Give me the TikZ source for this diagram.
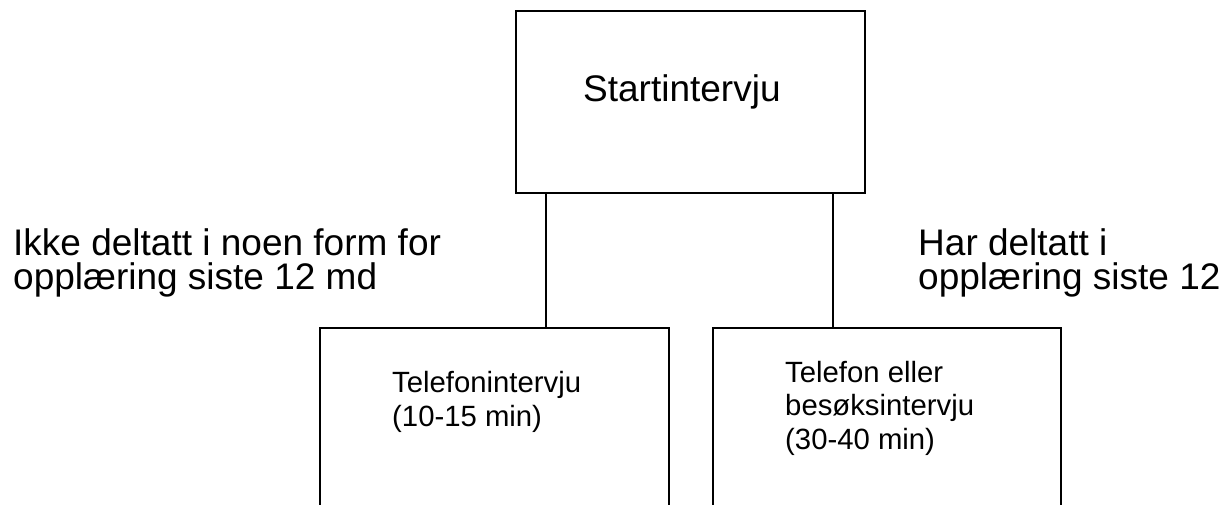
\documentclass[tikz,border=0pt]{standalone}
\usepackage{fontspec}
\setmainfont{Liberation Sans}
\begin{document}
\begin{tikzpicture}[x=1pt,y=-1pt,
  boxstyle/.style={draw=black,line width=1.8pt,rectangle,inner sep=0pt},
  conn/.style={draw=black,line width=1.8pt},
  bigtxt/.style={anchor=base west,align=left,inner sep=0pt,font=\fontsize{37}{34}\selectfont},
  smalltxt/.style={anchor=base west,align=left,inner sep=0pt,font=\fontsize{29.3}{33.5}\selectfont}]
\useasboundingbox (0,0) rectangle (1222,504);
% boxes
\node[boxstyle,anchor=north west,minimum width=349pt,minimum height=182pt] (top) at (515,10) {};
\node[boxstyle,anchor=north west,minimum width=349pt,minimum height=220pt] (lbox) at (319,327) {};
\node[boxstyle,anchor=north west,minimum width=348pt,minimum height=220pt] (rbox) at (712,327) {};
% connectors
\coordinate (lc) at (546,192);
\coordinate (rc) at (833,192);
\draw[conn] (lc) -- (lc |- lbox.north);
\draw[conn] (rc) -- (rc |- rbox.north);
% texts (anchor at baseline of last line)
\node[bigtxt] (toptxt) at (583,101) {Startintervju};
\node[bigtxt] (ltxt) at (13,289) {Ikke deltatt i noen form for\\opplæring siste 12 md};
\node[bigtxt] (rtxt) at (918,289) {Har deltatt i\\opplæring siste 12};
\node[smalltxt] (lboxtxt) at (392,426) {Telefonintervju\\(10-15 min)};
\node[smalltxt] (rboxtxt) at (785,449) {Telefon eller\\besøksintervju\\(30-40 min)};
\end{tikzpicture}
\end{document}
